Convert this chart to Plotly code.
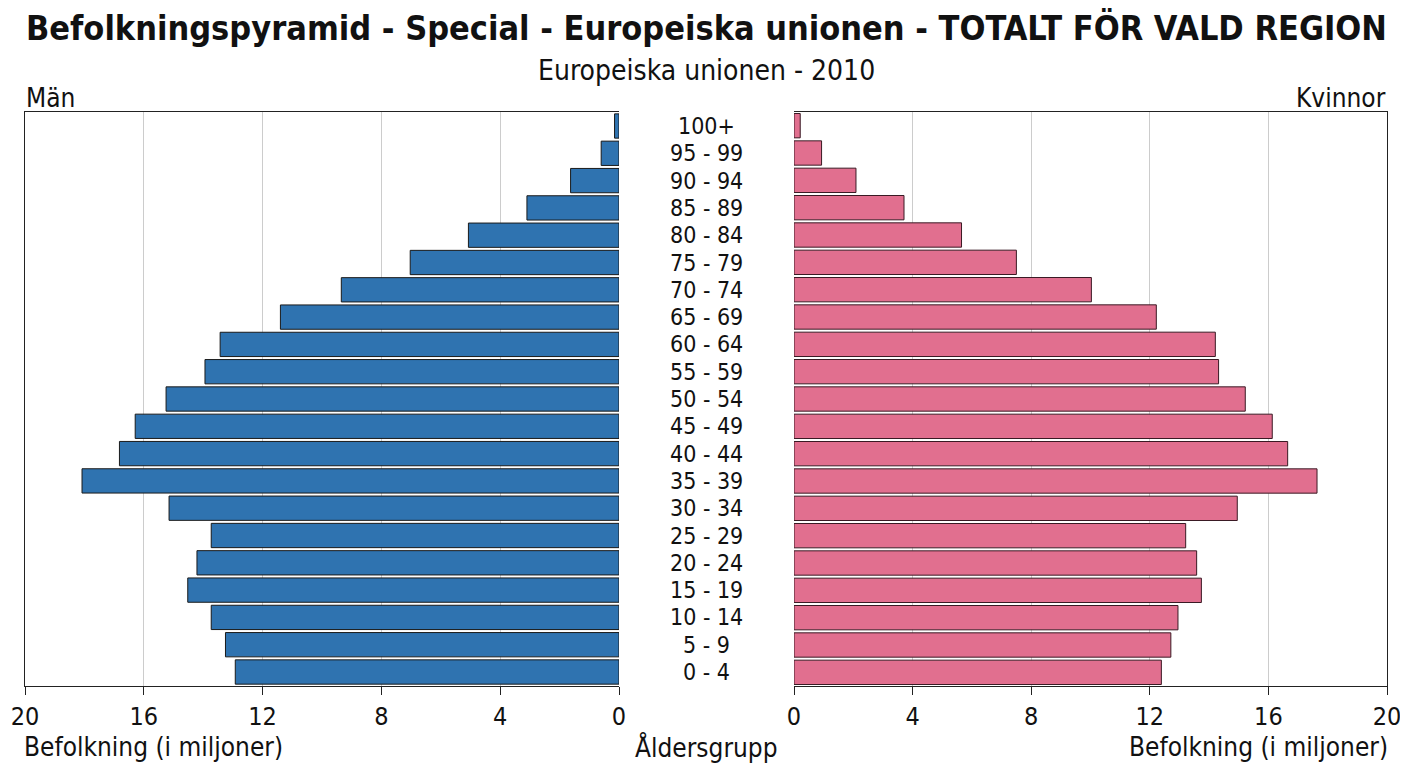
import plotly.graph_objects as go

# age groups, top to bottom as in the source chart
age_groups = ["100+", "95 - 99", "90 - 94", "85 - 89", "80 - 84", "75 - 79",
              "70 - 74", "65 - 69", "60 - 64", "55 - 59", "50 - 54", "45 - 49",
              "40 - 44", "35 - 39", "30 - 34", "25 - 29", "20 - 24", "15 - 19",
              "10 - 14", "5 - 9", "0 - 4"]

# population in millions
men = [0.15, 0.6, 1.63, 3.1, 5.07, 7.03, 9.35, 11.4, 13.43, 13.94, 15.25, 16.29,
       16.82, 18.08, 15.15, 13.73, 14.21, 14.52, 13.73, 13.25, 12.92]
women = [0.21, 0.93, 2.09, 3.71, 5.65, 7.5, 10.03, 12.22, 14.21, 14.32, 15.22, 16.13,
         16.65, 17.64, 14.95, 13.21, 13.58, 13.74, 12.95, 12.71, 12.39]

tick_vals = [0, 4, 8, 12, 16, 20]
grid_vals = [4, 8, 12, 16]

# the page body has an 8px margin, so the figure is a bit smaller than the window
OFF = 8
W, H = 1408 - OFF, 768 - OFF
FONT = "DejaVu Sans Condensed, DejaVu Sans, sans-serif"
BLUE = "#2f73b0"
PINK = "#e16f8f"


def px(v):
    return (v - OFF) / W


def py(v):
    return 1 - (v - OFF) / H


fig = go.Figure()
fig.add_trace(go.Bar(y=age_groups, x=men, orientation="h", xaxis="x", yaxis="y",
                     marker=dict(color=BLUE, line=dict(color="#1a1a1a", width=1)),
                     name="Män", showlegend=False))
fig.add_trace(go.Bar(y=age_groups, x=women, orientation="h", xaxis="x2", yaxis="y2",
                     marker=dict(color=PINK, line=dict(color="#3a1a24", width=1)),
                     name="Kvinnor", showlegend=False))

common_x = dict(tickvals=tick_vals, showgrid=False, zeroline=False, automargin=False,
                showline=True, linecolor="#222", linewidth=1, mirror=True,
                ticks="outside", ticklen=8, tickcolor="#222",
                tickfont=dict(family=FONT, size=25, color="#111"),
                minor=dict(tickvals=grid_vals, showgrid=True, gridcolor="#cccccc",
                           gridwidth=1, ticks=""))
common_y = dict(categoryorder="array", categoryarray=age_groups[::-1], automargin=False,
                showticklabels=False, showgrid=False, zeroline=False,
                showline=True, linecolor="#222", linewidth=1, ticks="",
                domain=[py(686), py(112)])

fig.update_layout(
    width=W, height=H,
    margin=dict(l=0, r=0, t=0, b=0),
    paper_bgcolor="white", plot_bgcolor="white",
    bargap=0.11,
    xaxis=dict(common_x, domain=[px(25), px(619)], range=[20, 0], anchor="y"),
    yaxis=dict(common_y, anchor="x", side="left"),
    xaxis2=dict(common_x, domain=[px(794), px(1387)], range=[0, 20], anchor="y2"),
    yaxis2=dict(common_y, anchor="x2", side="right"),
    font=dict(family=FONT, color="#111"),
)

annotations = [
    dict(text="<b>Befolkningspyramid - Special - Europeiska unionen - TOTALT FÖR VALD REGION</b>",
         x=px(706), y=py(28), font=dict(size=34), xanchor="center", yanchor="middle"),
    dict(text="Europeiska unionen - 2010", x=px(706), y=py(70), font=dict(size=28),
         xanchor="center", yanchor="middle"),
    dict(text="Män", x=px(24), y=py(98), font=dict(size=26), xanchor="left", yanchor="middle"),
    dict(text="Kvinnor", x=px(1388), y=py(98), font=dict(size=26), xanchor="right", yanchor="middle"),
    dict(text="Befolkning (i miljoner)", x=px(22), y=py(747), font=dict(size=26),
         xanchor="left", yanchor="middle"),
    dict(text="Åldersgrupp", x=px(706), y=py(747), font=dict(size=26),
         xanchor="center", yanchor="middle"),
    dict(text="Befolkning (i miljoner)", x=px(1390), y=py(747), font=dict(size=26),
         xanchor="right", yanchor="middle"),
]
for a in annotations:
    a.update(xref="paper", yref="paper", showarrow=False)

# age group labels in the gap between the two halves
# (kept small enough that neighbouring rows don't collide)
for g in age_groups:
    annotations.append(dict(text=g, x=px(706), y=g, xref="paper", yref="y",
                            showarrow=False, xanchor="center", yanchor="middle",
                            borderpad=0, font=dict(size=23)))

fig.update_layout(annotations=annotations)
fig.write_html("out.html")
